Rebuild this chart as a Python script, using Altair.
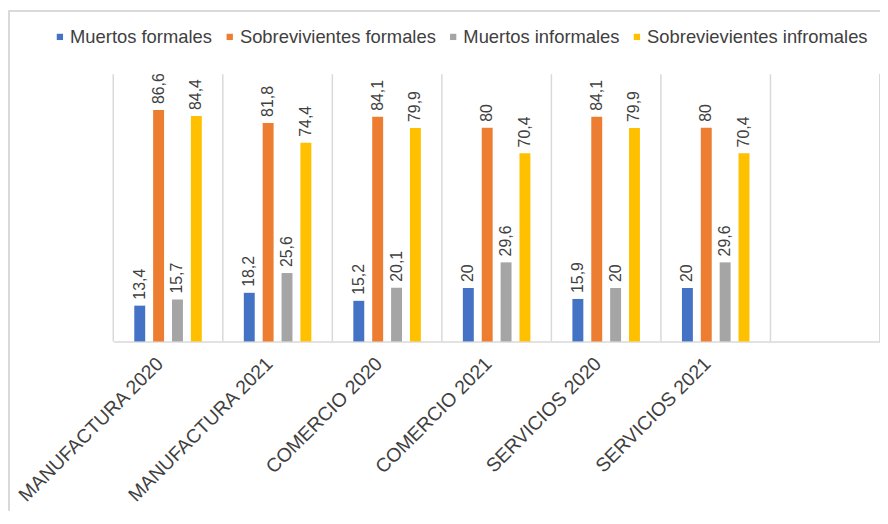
import altair as alt
import pandas as pd

categories = ["MANUFACTURA 2020", "MANUFACTURA 2021", "COMERCIO  2020",
              "COMERCIO  2021", "SERVICIOS 2020", "SERVICIOS 2021"]
series = ["Muertos formales", "Sobrevivientes formales",
          "Muertos informales", "Sobrevievientes infromales"]
muertos_formales = [13.4, 18.2, 15.2, 20, 15.9, 20]
sobrevivientes_formales = [86.6, 81.8, 84.1, 80, 84.1, 80]
muertos_informales = [15.7, 25.6, 20.1, 29.6, 20, 29.6]
sobrevivientes_informales = [84.4, 74.4, 79.9, 70.4, 79.9, 70.4]
colors = ["#4472C4", "#ED7D31", "#A5A5A5", "#FFC000"]

domain = categories + [" "]
values_by_series = [muertos_formales, sobrevivientes_formales,
                    muertos_informales, sobrevivientes_informales]

rows = []
for s, vals in zip(series, values_by_series):
    for c, v in zip(categories, vals):
        rows.append({"cat": c, "series": s, "value": v,
                     "label": f"{v:g}".replace(".", ",")})
df = pd.DataFrame(rows)
sep_df = pd.DataFrame({"cat": domain})

W, H = 772, 269
FONT = "Liberation Sans"
GRID = "#d9d9d9"

xscale = alt.Scale(domain=domain, paddingInner=0, paddingOuter=0)
xaxis = alt.Axis(title=None, labelAngle=-45, labelAlign="right",
                 labelBaseline="middle", labelFontSize=19.5, labelFont=FONT,
                 labelColor="#404040", labelPadding=19, labelOffset=-8,
                 ticks=False, domainColor=GRID, domainWidth=1.5, grid=False,
                 labelLimit=0, labelBound=False, labelOverlap=False,
                 labelFlush=False)
x = alt.X("cat:N", scale=xscale, axis=xaxis, sort=domain)
xoff = alt.XOffset("series:N", sort=series,
                   scale=alt.Scale(domain=series, paddingInner=0.195, paddingOuter=1))
y = alt.Y("value:Q", scale=alt.Scale(domain=[0, 100]), axis=None)

seps = alt.Chart(sep_df).mark_rule(color=GRID, strokeWidth=1.5).encode(
    x=alt.X("cat:N", scale=xscale, axis=xaxis, sort=domain, bandPosition=0),
    y=alt.value(0), y2=alt.value(H))
right_edge = alt.Chart(sep_df).mark_rule(color=GRID, strokeWidth=1.5).encode(
    x=alt.value(W), y=alt.value(0), y2=alt.value(H))
frame_left = alt.Chart(sep_df).mark_rule(color=GRID, strokeWidth=1.5).encode(
    x=alt.value(-105), y=alt.value(-64), y2=alt.value(H + 170))
frame_top = alt.Chart(sep_df).mark_rule(color=GRID, strokeWidth=1.5).encode(
    y=alt.value(-64), x=alt.value(-105), x2=alt.value(W + 2))

bars = alt.Chart(df).mark_bar(size=11).encode(
    x=x, xOffset=xoff, y=y,
    color=alt.Color("series:N", sort=series,
                    scale=alt.Scale(domain=series, range=colors),
                    legend=alt.Legend(orient="none", legendX=-63, legendY=-47,
                                      direction="horizontal", title=None,
                                      padding=0, labelLimit=0,
                                      symbolType="square", symbolSize=40,
                                      symbolStrokeWidth=0,
                                      labelFontSize=18.5, labelFont=FONT,
                                      labelColor="#404040", columnPadding=8,
                                      labelOffset=1)))

labels = alt.Chart(df).mark_text(angle=270, align="left", baseline="middle",
                                 dx=6, fontSize=16, font=FONT,
                                 color="#404040").encode(
    x=x, xOffset=xoff, y=y, text="label:N")

chart = alt.layer(frame_left, frame_top, seps, right_edge, bars, labels).properties(
    width=W, height=H,
    autosize=alt.AutoSizeParams(type="none"),
    padding={"left": 106, "top": 65, "right": 0, "bottom": 170},
    background="white"
).configure_view(stroke=None)

chart.save("out.html", embed_options={"renderer": "svg", "actions": False})
